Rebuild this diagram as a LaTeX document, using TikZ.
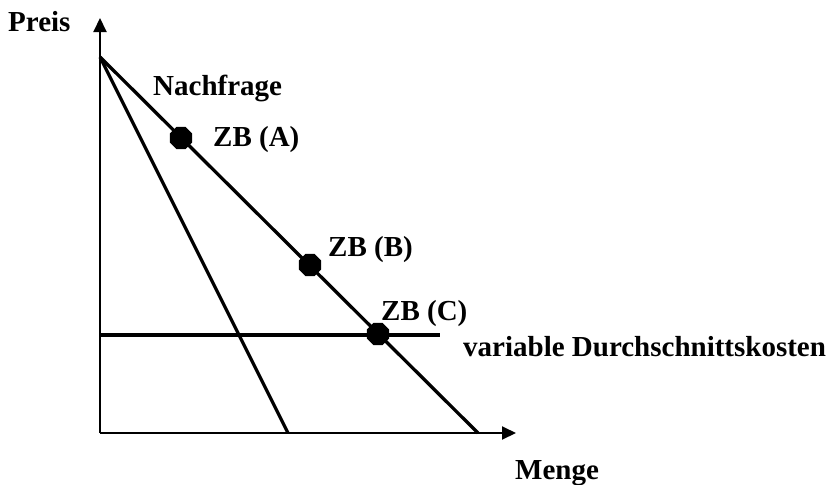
\documentclass[tikz,border=0pt]{standalone}
\usepackage{fontspec}
\setmainfont{Liberation Serif}
\usetikzlibrary{arrows.meta,shapes.geometric}
\begin{document}
\begin{tikzpicture}[x=1pt,y=-1pt,
  lbl/.style={inner sep=0pt,anchor=base west,font=\fontsize{29}{34}\selectfont\bfseries},
  axis/.style={line width=2pt,-{Triangle[length=14pt,width=13pt]}},
  curve/.style={line width=3.3pt},
  dot/.style={regular polygon,regular polygon sides=8,fill=black,inner sep=0pt,minimum size=24pt}]
\useasboundingbox (0,0) rectangle (831,485);
\coordinate (O) at (100,433);
\coordinate (ytop) at (100,18);
\coordinate (xend) at (516,433);
\coordinate (P) at (100,57);
\coordinate (MRx) at (288,433);
\coordinate (Dx) at (478,433);
\coordinate (H0) at (100,335);
\coordinate (H1) at (440,335);
\draw[axis] (O) -- (ytop);
\draw[axis] (O) -- (xend);
\draw[curve] (P) -- (MRx);
\draw[curve] (P) -- (Dx);
\draw[curve] (H0) -- (H1);
\node[dot] (A) at (181,138) {};
\node[dot] (B) at (310,265) {};
\node[dot] (C) at (378,334) {};
\node[lbl] (preis) at (8,31) {Preis};
\node[lbl] (nach) at (153,95) {Nachfrage};
\node[lbl] (la) at (213,146) {ZB (A)};
\node[lbl] (lb) at (328,256) {ZB (B)};
\node[lbl] (lc) at (381,320) {ZB (C)};
\node[lbl] (vdk) at (463,356) {variable Durchschnittskosten};
\node[lbl] (menge) at (515,479) {Menge};
\end{tikzpicture}
\end{document}
